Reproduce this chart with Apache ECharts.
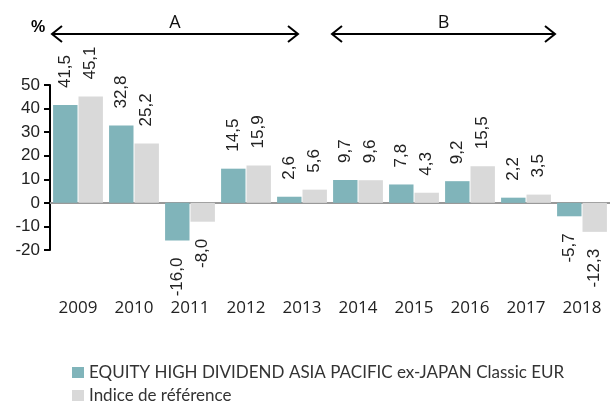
<!DOCTYPE html>
<html>
<head>
<meta charset="utf-8">
<script src="https://cdn.jsdelivr.net/npm/echarts@6/dist/echarts.min.js"></script>
<style>
  html, body { margin: 0; padding: 0; background: #fff; }
  #container { width: 610px; height: 403px; }
</style>
</head>
<body>
<div id="container"></div>
<script>
var years = ['2009', '2010', '2011', '2012', '2013', '2014', '2015', '2016', '2017', '2018'];
var fundValues = [41.5, 32.8, -16.0, 14.5, 2.6, 9.7, 7.8, 9.2, 2.2, -5.7];
var indexValues = [45.1, 25.2, -8.0, 15.9, 5.6, 9.6, 4.3, 15.5, 3.5, -12.3];
var fundName = 'EQUITY HIGH DIVIDEND ASIA PACIFIC ex-JAPAN Classic EUR';
var indexName = 'Indice de référence';

var NUMFONT = '"Liberation Sans", Arial, sans-serif';
var YEARFONT = '"Open Sans", sans-serif';
var LEGFONT = 'Lato, sans-serif';

// build bar items, negative values get their label under the bar
function toItems(values) {
  var out = [];
  for (var i = 0; i < values.length; i++) {
    var v = values[i];
    var item = { value: v };
    if (v < 0) {
      item.label = { position: 'bottom', align: 'right' };
    }
    out.push(item);
  }
  return out;
}

function fmt(p) {
  return p.value.toFixed(1).replace('.', ',');
}

var barLabel = {
  show: true,
  position: 'top',
  rotate: 90,
  align: 'left',
  verticalAlign: 'middle',
  distance: 17,
  color: '#222',
  fontFamily: NUMFONT,
  fontSize: 17,
  formatter: fmt
};

// arrow helper for the period annotations
function arrow(x1, x2, y, txt) {
  var h = 8, l = 10;
  return [
    { type: 'line', shape: { x1: x1, y1: y, x2: x2, y2: y }, style: { stroke: '#000', lineWidth: 2 } },
    { type: 'polyline', shape: { points: [[x1 + l, y - h], [x1, y], [x1 + l, y + h]] }, style: { stroke: '#000', lineWidth: 2, fill: null } },
    { type: 'polyline', shape: { points: [[x2 - l, y - h], [x2, y], [x2 - l, y + h]] }, style: { stroke: '#000', lineWidth: 2, fill: null } },
    { type: 'text', x: (x1 + x2) / 2, y: y - 11, style: { text: txt, fill: '#111', font: '18px ' + YEARFONT, textAlign: 'center', textVerticalAlign: 'middle' } }
  ];
}

var dom = document.getElementById('container');
var myChart = echarts.init(dom);

var legendText = { fontSize: 17, color: '#333', fontFamily: LEGFONT };

var option = {
  animation: false,
  grid: { left: 50, right: 0, top: 85, bottom: 153 },
  legend: [
    {
      left: 72, top: 364, padding: 0,
      itemWidth: 12, itemHeight: 11, icon: 'rect',
      textStyle: legendText,
      data: [fundName]
    },
    {
      left: 72, top: 387, padding: 0,
      itemWidth: 12, itemHeight: 11, icon: 'rect',
      textStyle: legendText,
      data: [indexName]
    }
  ],
  xAxis: [
    {
      type: 'category',
      data: years,
      axisLine: { onZero: true, lineStyle: { color: '#999', width: 2 } },
      axisTick: { show: false },
      axisLabel: { show: false }
    },
    {
      type: 'category',
      data: years,
      position: 'bottom',
      axisLine: { show: false, onZero: false },
      axisTick: { show: false },
      axisLabel: { margin: 50, fontSize: 17, color: '#222', fontFamily: YEARFONT }
    }
  ],
  yAxis: {
    type: 'value',
    min: -20,
    max: 50,
    interval: 10,
    splitLine: { show: false },
    axisLine: { show: true, lineStyle: { color: '#000', width: 2 } },
    axisTick: { show: true, length: 6, lineStyle: { color: '#000', width: 2 } },
    axisLabel: { fontSize: 17, color: '#222', margin: 10, fontFamily: NUMFONT }
  },
  series: [
    {
      name: fundName,
      type: 'bar',
      xAxisIndex: 0,
      barGap: '4%',
      barCategoryGap: '11%',
      itemStyle: { color: '#80b4ba' },
      label: barLabel,
      data: toItems(fundValues)
    },
    {
      name: indexName,
      type: 'bar',
      xAxisIndex: 0,
      itemStyle: { color: '#d9d9d9' },
      label: barLabel,
      data: toItems(indexValues)
    }
  ],
  graphic: [
    { type: 'text', x: 38, y: 28, style: { text: '%', fill: '#000', font: 'bold 16px ' + NUMFONT, textAlign: 'center', textVerticalAlign: 'middle' } }
  ].concat(arrow(52, 298, 34, 'A')).concat(arrow(332, 555, 34, 'B'))
};

myChart.setOption(option, true);
</script>
</body>
</html>
